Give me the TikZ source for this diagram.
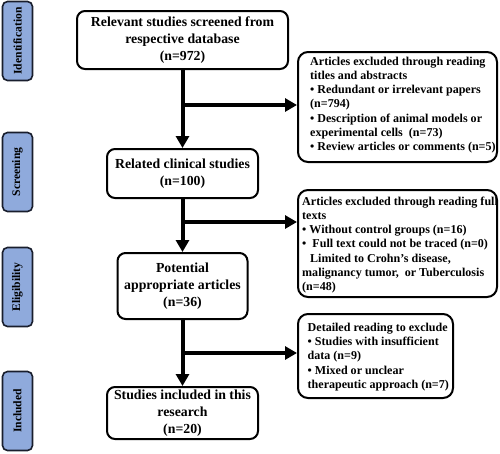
\documentclass[tikz,border=0pt]{standalone}
\usepackage{fontspec}
\setmainfont{Liberation Serif}
\usetikzlibrary{arrows.meta}
\definecolor{sideblue}{RGB}{143,170,220}
\definecolor{sideedge}{RGB}{25,30,45}
\begin{document}
\begin{tikzpicture}[x=1pt,y=-1pt,
  mainbox/.style={draw=black, line width=2pt, rounded corners=8pt, fill=white,
    align=center, font=\fontsize{13.8}{17}\selectfont\bfseries, inner sep=0pt},
  sidebox/.style={draw=sideedge, line width=1.6pt, rounded corners=5pt, fill=sideblue,
    rotate=90, minimum width=79pt, minimum height=30pt, inner sep=0pt,
    font=\fontsize{11.6}{13}\selectfont\bfseries},
  exbox/.style={draw=black, line width=2pt, rounded corners=10pt, fill=white, inner sep=0pt},
  extext/.style={anchor=west, align=left, font=\fontsize{12.05}{14.1}\selectfont\bfseries, inner sep=0pt},
  flow/.style={line width=4pt, -{Triangle[length=12pt,width=13pt]}}
]
\useasboundingbox (0,0) rectangle (500,453);

% side labels
\node[sidebox] (s1) at (17.5,41) {Identification};
\node[sidebox] (s2) at (17.5,172) {Screening};
\node[sidebox] (s3) at (17.5,287) {Eligibility};
\node[sidebox] (s4) at (17.5,411) {Included};

% main boxes
\node[mainbox, minimum width=211pt, minimum height=58pt] (b1) at (182.5,40)
  {Relevant studies screened from\\respective database\\(n=972)};
\node[mainbox, minimum width=151pt, minimum height=49pt] (b2) at (182.5,173.5)
  {Related clinical studies\\(n=100)};
\node[mainbox, minimum width=130pt, minimum height=66pt] (b3) at (182.5,286)
  {Potential\\appropriate articles\\(n=36)};
\node[mainbox, minimum width=151pt, minimum height=52pt] (b4) at (182.5,413)
  {Studies included in this\\research\\(n=20)};

% exclusion boxes
\node[exbox, minimum width=199pt, minimum height=110pt] (r1) at (397.5,107) {};
\node[extext] (t1) at (310,105)
  {Articles excluded through reading\\titles and abstracts\\
   \textbullet\ Redundant or irrelevant papers\\(n=794)\\
   \textbullet\ Description of animal models or\\experimental cells~~(n=73)\\
   \textbullet\ Review articles or comments (n=5)};

\node[exbox, minimum width=199pt, minimum height=107pt] (r2) at (397.5,243.5) {};
\node[extext] (t2) at (302,245)
  {Articles excluded through reading full\\texts\\
   \textbullet\ Without control groups (n=16)\\
   \textbullet~~Full text could not be traced (n=0)\\
   \hspace*{8pt}Limited to Crohn's disease,\\
   malignancy tumor,~~or Tuberculosis\\(n=48)};

\node[exbox, minimum width=155pt, minimum height=84pt] (r3) at (375.5,356) {};
\node[extext] (t3) at (307.5,357)
  {Detailed reading to exclude\\
   \textbullet\ Studies with insufficient\\data (n=9)\\
   \textbullet\ Mixed or unclear\\therapeutic approach (n=7)};

% junctions
\coordinate (j1) at (182.5,105);
\coordinate (j2) at (182.5,222);
\coordinate (j3) at (182.5,353);

% connectors
\draw[flow] (b1.south) -- (b2.north);
\draw[flow] (b2.south) -- (b3.north);
\draw[flow] (b3.south) -- (b4.north);
\draw[flow] (j1) -- (j1 -| r1.west);
\draw[flow] (j2) -- (j2 -| r2.west);
\draw[flow] (j3) -- (j3 -| r3.west);
\end{tikzpicture}
\end{document}
